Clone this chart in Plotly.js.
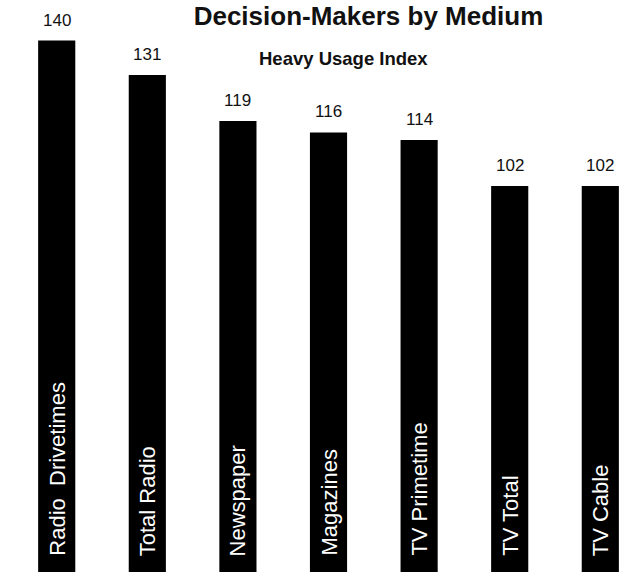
<!DOCTYPE html>
<html>
<head>
<meta charset="utf-8">
<script src="https://cdn.plot.ly/plotly-3.0.1.min.js"></script>
<style>
  html, body { margin: 0; padding: 0; background: #ffffff; }
  #chart { width: 637px; height: 572px; }
</style>
</head>
<body>
<div id="chart"></div>
<script>
// Data
const categories = ["Radio  Drivetimes", "Total Radio", "Newspaper", "Magazines", "TV Primetime", "TV Total", "TV Cable"];
const values = [140, 131, 119, 116, 114, 102, 102];
const valueLabels = values.map(v => String(v));
const chartTitle = "Decision-Makers by Medium";
const subTitle = "Heavy Usage Index";

const yRange = [1.1, 150.6];
const xIdx = categories.map((c, i) => i);

const barTrace = {
  type: "bar",
  x: xIdx,
  y: values,
  width: 0.41,
  marker: { color: "#000000", line: { width: 0 } },
  hoverinfo: "skip",
  showlegend: false
};

const annotations = [];
// value labels above bars
xIdx.forEach((x, i) => {
  annotations.push({
    x: x, y: values[i], xref: "x", yref: "y",
    text: valueLabels[i], showarrow: false,
    xanchor: "center", yanchor: "bottom", yshift: 9,
    font: { family: "Liberation Sans, Arial, sans-serif", size: 17, color: "#111111" }
  });
});
// category labels inside bars, rotated
xIdx.forEach((x, i) => {
  annotations.push({
    x: x, y: yRange[0], xref: "x", yref: "y",
    text: categories[i].replace(/  /g, "&nbsp;&nbsp;"), showarrow: false,
    textangle: -90,
    xanchor: "center", yanchor: "bottom", yshift: 14,
    font: { family: "Liberation Sans, Arial, sans-serif", size: 22, color: "#ffffff" }
  });
});
// subtitle
annotations.push({
  x: 343.5 / 637, y: 0.898, xref: "paper", yref: "paper",
  text: "<b>" + subTitle + "</b>", showarrow: false,
  xanchor: "center", yanchor: "middle",
  font: { family: "Liberation Sans, Arial, sans-serif", size: 18.5, color: "#111111" }
});

const layout = {
  width: 637,
  height: 572,
  margin: { l: 0, r: 0, t: 0, b: 0, pad: 0 },
  paper_bgcolor: "#ffffff",
  plot_bgcolor: "#ffffff",
  title: {
    text: "<b>" + chartTitle + "</b>",
    x: 368.5 / 637, xanchor: "center",
    y: 0.972, yanchor: "middle",
    font: { family: "Liberation Sans, Arial, sans-serif", size: 26, color: "#111111" }
  },
  xaxis: {
    range: [-0.626, 6.405],
    showticklabels: false, showgrid: false, zeroline: false, ticks: "",
    fixedrange: true
  },
  yaxis: {
    range: yRange,
    showticklabels: false, showgrid: false, zeroline: false, ticks: "",
    fixedrange: true
  },
  annotations: annotations,
  showlegend: false
};

Plotly.newPlot("chart", [barTrace], layout, { displayModeBar: false, staticPlot: true });
</script>
</body>
</html>
